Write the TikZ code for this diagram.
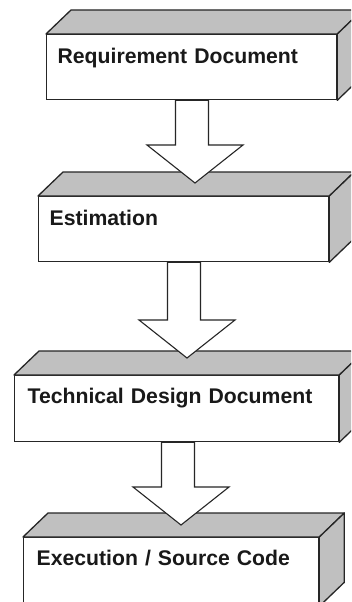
\documentclass[tikz,border=0pt]{standalone}
\usepackage{fontspec}
\setmainfont{Liberation Sans}
\usetikzlibrary{calc}
\definecolor{edge}{HTML}{262626}
\definecolor{sidegray}{HTML}{C0C0C0}
\tikzset{
  box/.style={draw=edge, line width=1.3pt, fill=white, anchor=north west,
    inner xsep=#1, inner ysep=0pt, text height=29pt, text depth=36pt,
    align=left, font=\fontsize{21.2}{25}\selectfont\bfseries, text=black!90},
  face/.style={draw=edge, line width=1.3pt, fill=sidegray, line join=round},
  fatarrow/.style={draw=edge, line width=1.1pt, fill=white, line join=miter},
}
\newcommand{\boxfaces}[1]{%
  \draw[face] (#1.north west) -- ++(25,-24) -- ($(#1.north east)+(25,-24)$) -- (#1.north east) -- cycle;
  \draw[face] (#1.north east) -- ++(25,-24) -- ($(#1.south east)+(25,-24)$) -- (#1.south east) -- cycle;}
\newcommand{\fatarr}[2]{%
  \draw[fatarrow] let \p1=(#1), \p2=(#2) in
    (\x1-16.5pt,\y1) -- (\x1-16.5pt,\y2+38pt) -- (\x2-48pt,\y2+38pt) -- (\x2,\y2)
    -- (\x2+48pt,\y2+38pt) -- (\x1+16.5pt,\y2+38pt) -- (\x1+16.5pt,\y1) -- cycle;}
\begin{document}
\begin{tikzpicture}[x=1pt,y=-1pt]
  \useasboundingbox (0,0) rectangle (351,602);
  \clip (0,0) rectangle (351,602);
  \fill[white] (0,0) rectangle (351,602);
  % boxes
  \node[box=11pt, text width=268pt] (b1) at (46,34) {Requirement Document};
  \node[box=11pt, text width=268pt] (b2) at (38,196) {Estimation};
  \node[box=13pt, text width=298pt, text height=28pt, text depth=38pt] (b3) at (14,375) {Technical Design Document};
  \node[box=13pt, text width=269pt, text height=28pt, text depth=40pt] (b4) at (23,537) {Execution / Source Code};
  \boxfaces{b1}
  \boxfaces{b2}
  \boxfaces{b3}
  \boxfaces{b4}
  % arrow coordinates
  \coordinate (s1) at (192,0);
  \coordinate (t1) at (195,183);
  \coordinate (s2) at (184,0);
  \coordinate (t2) at (187,358);
  \coordinate (s3) at (178,0);
  \coordinate (t3) at (181,525);
  \fatarr{b1.south -| s1}{t1}
  \fatarr{b2.south -| s2}{t2}
  \fatarr{b3.south -| s3}{t3}
\end{tikzpicture}
\end{document}
